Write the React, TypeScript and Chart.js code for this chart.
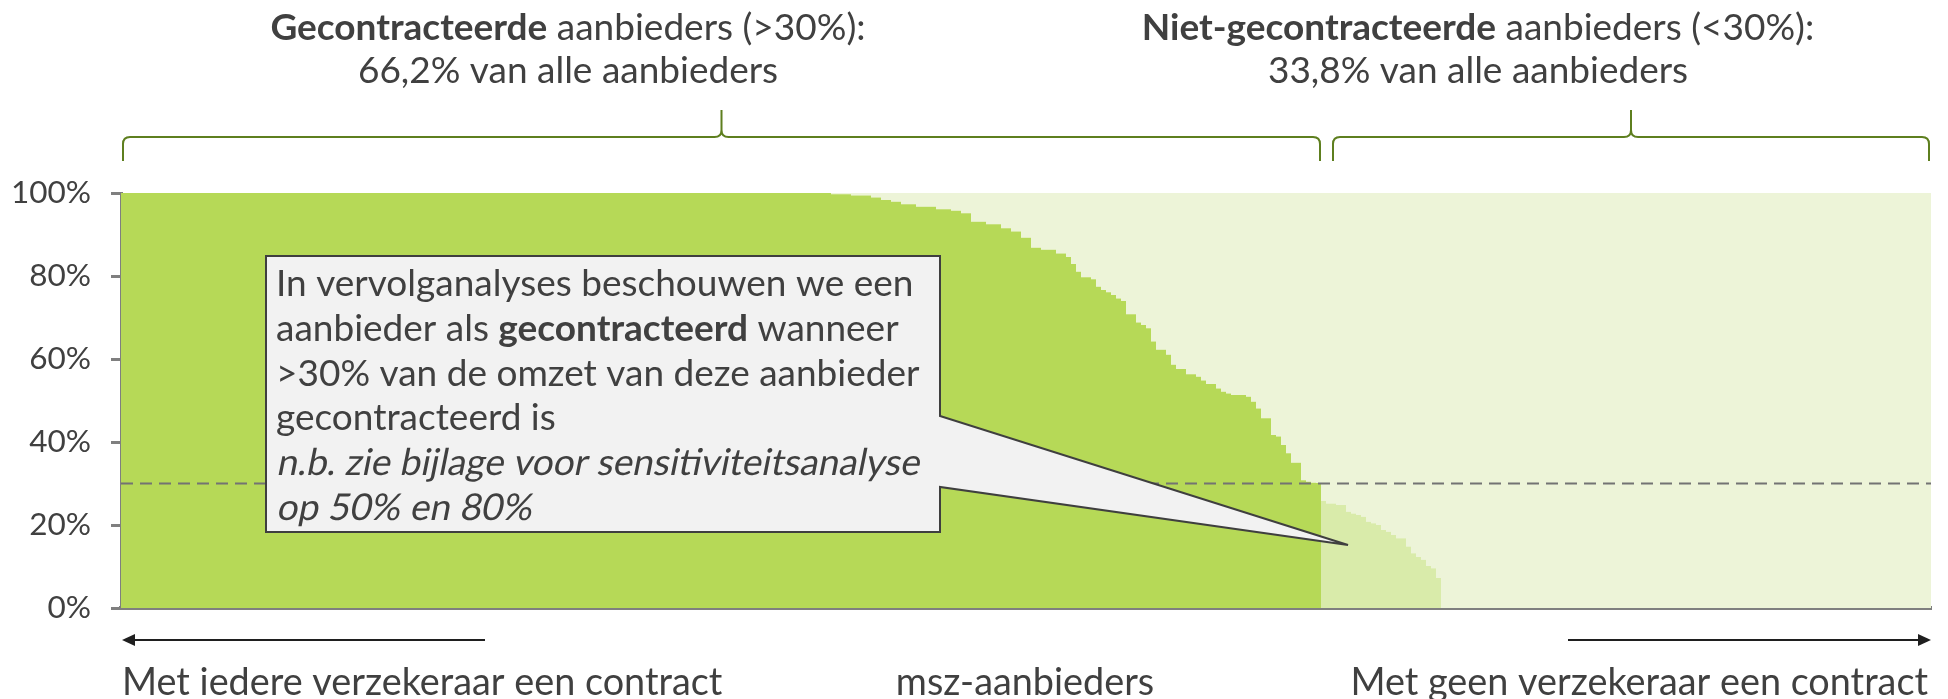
import React, { useEffect, useRef } from "react";
import { Chart, registerables } from "chart.js";

Chart.register(...registerables);

// Share of revenue (%) contracted by insurers, per msz-provider, sorted descending.
// Providers with > 30% contracted ("gecontracteerd")
const contractedShares: number[] = [
  100, 100, 100, 100, 100, 100, 100, 100, 100, 100, 100, 100, 100, 100, 100, 100, 100, 100, 100, 100,
  100, 100, 100, 100, 100, 100, 100, 100, 100, 100, 100, 100, 100, 100, 100, 100, 100, 100, 100, 100,
  100, 100, 100, 100, 100, 100, 100, 100, 100, 100, 100, 100, 100, 100, 100, 100, 100, 100, 100, 100,
  100, 100, 100, 100, 100, 100, 100, 100, 100, 100, 100, 100, 100, 100, 100, 100, 100, 100, 100, 100,
  100, 100, 100, 100, 100, 100, 100, 100, 100, 100, 100, 100, 100, 100, 100, 100, 100, 100, 100, 100,
  100, 100, 100, 100, 100, 100, 100, 100, 100, 100, 100, 100, 100, 100, 100, 100, 100, 100, 100, 100,
  100, 100, 100, 100, 100, 100, 100, 100, 100, 100, 100, 100, 100, 100, 100, 100, 100, 100, 100, 100,
  100, 100, 99.7, 99.7, 99.7, 99.7, 99.4, 99.4, 99.4, 99.4, 98.9, 98.9, 98.3, 98.3, 97.9, 97.9, 97.3, 97.3, 97.3, 96.7,
  96.7, 96.7, 96.7, 96.1, 96.1, 96.1, 95.7, 95.7, 95.1, 95.1, 93.1, 93.1, 93.1, 92.5, 92.5, 92.5, 91.5, 91.5, 90.7, 90.7,
  89.2, 89.2, 86.8, 86.8, 86.3, 86.3, 86.3, 85.4, 85.4, 84.6, 82.9, 81.0, 79.7, 79.7, 79.2, 77.4, 76.6, 76.1, 75.4, 74.6,
  74.0, 70.8, 70.8, 68.8, 68.2, 67.4, 64.2, 62.2, 62.2, 61.0, 58.6, 57.6, 57.6, 56.3, 56.3, 55.7, 54.8, 54.0, 54.0, 52.9,
  52.1, 51.7, 51.3, 51.3, 51.3, 50.9, 49.7, 48.1, 45.7, 45.7, 41.7, 41.3, 39.3, 37.3, 35.0, 35.0, 30.8, 30.4, 30.2, 30.1,
];

// Providers with < 30% contracted ("niet-gecontracteerd")
const nonContractedShares: number[] = [
  25.8, 25.2, 25.2, 24.8, 24.8, 23.2, 22.8, 22.4, 22.0, 20.8, 20.4, 20.0, 18.8, 18.4, 17.6, 16.8, 16.8, 14.8, 13.2, 12.3,
  11.6, 10.1, 9.6, 7.2, 0, 0, 0, 0, 0, 0, 0, 0, 0, 0, 0, 0, 0, 0, 0, 0,
  0, 0, 0, 0, 0, 0, 0, 0, 0, 0, 0, 0, 0, 0, 0, 0, 0, 0, 0, 0,
  0, 0, 0, 0, 0, 0, 0, 0, 0, 0, 0, 0, 0, 0, 0, 0, 0, 0, 0, 0,
  0, 0, 0, 0, 0, 0, 0, 0, 0, 0, 0, 0, 0, 0, 0, 0, 0, 0, 0, 0,
  0, 0, 0, 0, 0, 0, 0, 0, 0, 0, 0, 0, 0, 0, 0, 0, 0, 0, 0, 0,
  0, 0,
];

const thresholdShare = 30;
const yMin = 0;
const yMax = 100;
const yStep = 20;

const leftHeader = [
  [{ t: "Gecontracteerde", s: "bold" }, { t: " aanbieders (>30%):", s: "normal" }],
  [{ t: "66,2% van alle aanbieders", s: "normal" }],
];
const rightHeader = [
  [{ t: "Niet-gecontracteerde", s: "bold" }, { t: " aanbieders (<30%):", s: "normal" }],
  [{ t: "33,8% van alle aanbieders", s: "normal" }],
];
const calloutLines = [
  [{ t: "In vervolganalyses beschouwen we een", s: "normal" }],
  [{ t: "aanbieder als ", s: "normal" }, { t: "gecontracteerd", s: "bold" }, { t: " wanneer", s: "normal" }],
  [{ t: ">30% van de omzet van deze aanbieder", s: "normal" }],
  [{ t: "gecontracteerd is", s: "normal" }],
  [{ t: "n.b. zie bijlage voor sensitiviteitsanalyse", s: "italic" }],
  [{ t: "op 50% en 80%", s: "italic" }],
];
const bottomLeftLabel = "Met iedere verzekeraar een contract";
const bottomMidLabel = "msz-aanbieders";
const bottomRightLabel = "Met geen verzekeraar een contract";

// styles
const DARK = "#B6D957";
const MEDIUM = "#D9EBAA";
const LIGHT = "#EDF4D8";
const AXIS = "#7F7F7F";
const TEXT = "#404040";
const BRACE = "#5E7F1F";
const FONT = "Lato, 'Noto Sans', sans-serif";
const HEADER_SIZE = 37;
const CALLOUT_SIZE = 37;
const BOTTOM_SIZE = 37.8;
const TICK_SIZE = 31.5;

type Run = { t: string; s: string };

function fontFor(style: string, size: number) {
  const wt = style === "bold" ? "bold " : "";
  return `${wt}${size}px ${FONT}`;
}

function drawRuns(ctx: CanvasRenderingContext2D, runs: Run[], x: number, y: number, align: string, size: number) {
  let total = 0;
  for (const r of runs) {
    ctx.font = fontFor(r.s, size);
    total += ctx.measureText(r.t).width;
  }
  let cx = align === "center" ? x - total / 2 : align === "right" ? x - total : x;
  ctx.textAlign = "left";
  ctx.textBaseline = "alphabetic";
  for (const r of runs) {
    ctx.font = fontFor(r.s, size);
    if (r.s === "italic") {
      ctx.save();
      ctx.translate(cx, y);
      ctx.transform(1, 0, -0.2, 1, 0, 0);
      ctx.fillText(r.t, 0, 0);
      ctx.restore();
    } else {
      ctx.fillText(r.t, cx, y);
    }
    cx += ctx.measureText(r.t).width;
  }
}

function drawBrace(ctx: CanvasRenderingContext2D, x1: number, x2: number, yEnd: number, yMid: number, yTip: number) {
  const r = 7;
  const xm = (x1 + x2) / 2;
  ctx.beginPath();
  ctx.moveTo(x1, yEnd);
  ctx.lineTo(x1, yMid + r);
  ctx.quadraticCurveTo(x1, yMid, x1 + r, yMid);
  ctx.lineTo(xm - r, yMid);
  ctx.quadraticCurveTo(xm, yMid, xm, yMid - r);
  ctx.lineTo(xm, yTip);
  ctx.moveTo(xm, yTip);
  ctx.lineTo(xm, yMid - r);
  ctx.quadraticCurveTo(xm, yMid, xm + r, yMid);
  ctx.lineTo(x2 - r, yMid);
  ctx.quadraticCurveTo(x2, yMid, x2, yMid + r);
  ctx.lineTo(x2, yEnd);
  ctx.stroke();
}

function drawArrow(ctx: CanvasRenderingContext2D, xFrom: number, xTo: number, y: number) {
  const dir = Math.sign(xTo - xFrom);
  const head = 13;
  ctx.beginPath();
  ctx.moveTo(xFrom, y);
  ctx.lineTo(xTo - dir * head, y);
  ctx.stroke();
  ctx.beginPath();
  ctx.moveTo(xTo, y);
  ctx.lineTo(xTo - dir * head, y - 6);
  ctx.lineTo(xTo - dir * head, y + 6);
  ctx.closePath();
  ctx.fill();
}

const annotationPlugin = {
  id: "mszAnnotations",
  afterDraw(chart: any) {
    const ctx: CanvasRenderingContext2D = chart.ctx;
    const xs = chart.scales.x;
    const split = contractedShares.length;
    const total = contractedShares.length + nonContractedShares.length;
    const left = xs.getPixelForValue(0);
    const mid = xs.getPixelForValue(split);
    const right = xs.getPixelForValue(total);
    ctx.save();

    // headers
    ctx.fillStyle = TEXT;
    drawRuns(ctx, leftHeader[0], 568, 40, "center", HEADER_SIZE);
    drawRuns(ctx, leftHeader[1], 568, 83, "center", HEADER_SIZE);
    drawRuns(ctx, rightHeader[0], 1478, 40, "center", HEADER_SIZE);
    drawRuns(ctx, rightHeader[1], 1478, 83, "center", HEADER_SIZE);

    // braces
    ctx.strokeStyle = BRACE;
    ctx.lineWidth = 2;
    drawBrace(ctx, left + 2, mid - 1, 161, 137, 110);
    drawBrace(ctx, mid + 12, right - 2, 161, 137, 110);

    // callout
    const bx1 = 266, bx2 = 940, by1 = 256, by2 = 532;
    const tipX = 1348, tipY = 545;
    ctx.beginPath();
    ctx.moveTo(bx1, by1);
    ctx.lineTo(bx2, by1);
    ctx.lineTo(bx2, 416);
    ctx.lineTo(tipX, tipY);
    ctx.lineTo(bx2, 487);
    ctx.lineTo(bx2, by2);
    ctx.lineTo(bx1, by2);
    ctx.closePath();
    ctx.fillStyle = "#F2F2F2";
    ctx.fill();
    ctx.strokeStyle = "#3F3F3F";
    ctx.lineWidth = 2;
    ctx.lineJoin = "miter";
    ctx.stroke();
    ctx.fillStyle = TEXT;
    calloutLines.forEach((line, i) => {
      drawRuns(ctx, line as Run[], 276, 296 + i * 44.8, "left", CALLOUT_SIZE);
    });

    // arrows
    ctx.strokeStyle = "#1F1F1F";
    ctx.fillStyle = "#1F1F1F";
    ctx.lineWidth = 2;
    drawArrow(ctx, 485, left + 1, 640);
    drawArrow(ctx, 1568, right, 640);

    // bottom labels
    ctx.fillStyle = TEXT;
    drawRuns(ctx, [{ t: bottomLeftLabel, s: "normal" }], left + 1, 695, "left", BOTTOM_SIZE);
    drawRuns(ctx, [{ t: bottomMidLabel, s: "normal" }], 1025, 695, "center", BOTTOM_SIZE);
    drawRuns(ctx, [{ t: bottomRightLabel, s: "normal" }], right - 3, 695, "right", BOTTOM_SIZE);

    ctx.restore();
  },
};

export default function App() {
  const ref = useRef<HTMLCanvasElement>(null);
  useEffect(() => {
    const allShares = [...contractedShares, ...nonContractedShares];
    const total = allShares.length;
    const split = contractedShares.length;
    const steps = (vals: number[], start: number) => [
      ...vals.map((v, i) => ({ x: start + i, y: v })),
      { x: start + vals.length, y: vals[vals.length - 1] },
    ];
    const base = {
      stepped: true,
      borderWidth: 0,
      borderColor: "rgba(0,0,0,0)",
      pointRadius: 0,
      showLine: true,
    };
    const chart = new Chart(ref.current as HTMLCanvasElement, {
      type: "line",
      data: {
        datasets: [
          {
            label: "drempel",
            data: [
              { x: 0, y: thresholdShare },
              { x: total, y: thresholdShare },
            ],
            borderColor: "#737373",
            borderWidth: 2,
            borderDash: [12, 7],
            pointRadius: 0,
            fill: false,
            order: 1,
          },
          { ...base, label: "gecontracteerd", data: steps(contractedShares, 0), fill: "origin", backgroundColor: DARK, order: 2 },
          { ...base, label: "niet-gecontracteerd", data: steps(nonContractedShares, split), fill: "origin", backgroundColor: MEDIUM, order: 2 },
          { ...base, label: "rest", data: steps(allShares, 0), fill: "end", backgroundColor: LIGHT, order: 3 },
        ] as any,
      },
      options: {
        animation: false,
        responsive: true,
        maintainAspectRatio: false,
        layout: { padding: { top: 193, bottom: 91, left: 0, right: 17 } },
        plugins: { legend: { display: false }, tooltip: { enabled: false } },
        scales: {
          x: {
            type: "linear",
            min: 0,
            max: total,
            z: 1,
            ticks: { display: false },
            grid: { display: false },
            border: { display: true, color: AXIS, width: 4 },
            afterFit: (s: any) => {
              s.height = 0;
            },
          },
          y: {
            min: yMin,
            max: yMax,
            z: 1,
            ticks: {
              stepSize: yStep,
              callback: (v: any) => `${v}%`,
              color: TEXT,
              font: { family: FONT, size: TICK_SIZE },
              padding: 20,
            },
            grid: { drawOnChartArea: false, drawTicks: true, tickLength: 10, color: AXIS, lineWidth: 3 },
            border: { display: true, color: AXIS, width: 3 },
            afterFit: (s: any) => {
              s.width = 121;
            },
          },
        },
      } as any,
      plugins: [annotationPlugin],
    });
    return () => chart.destroy();
  }, []);
  return (
    <div style={{ position: "fixed", left: 0, top: 0, width: 1948, height: 699, background: "#fff" }}>
      <canvas ref={ref} />
    </div>
  );
}
